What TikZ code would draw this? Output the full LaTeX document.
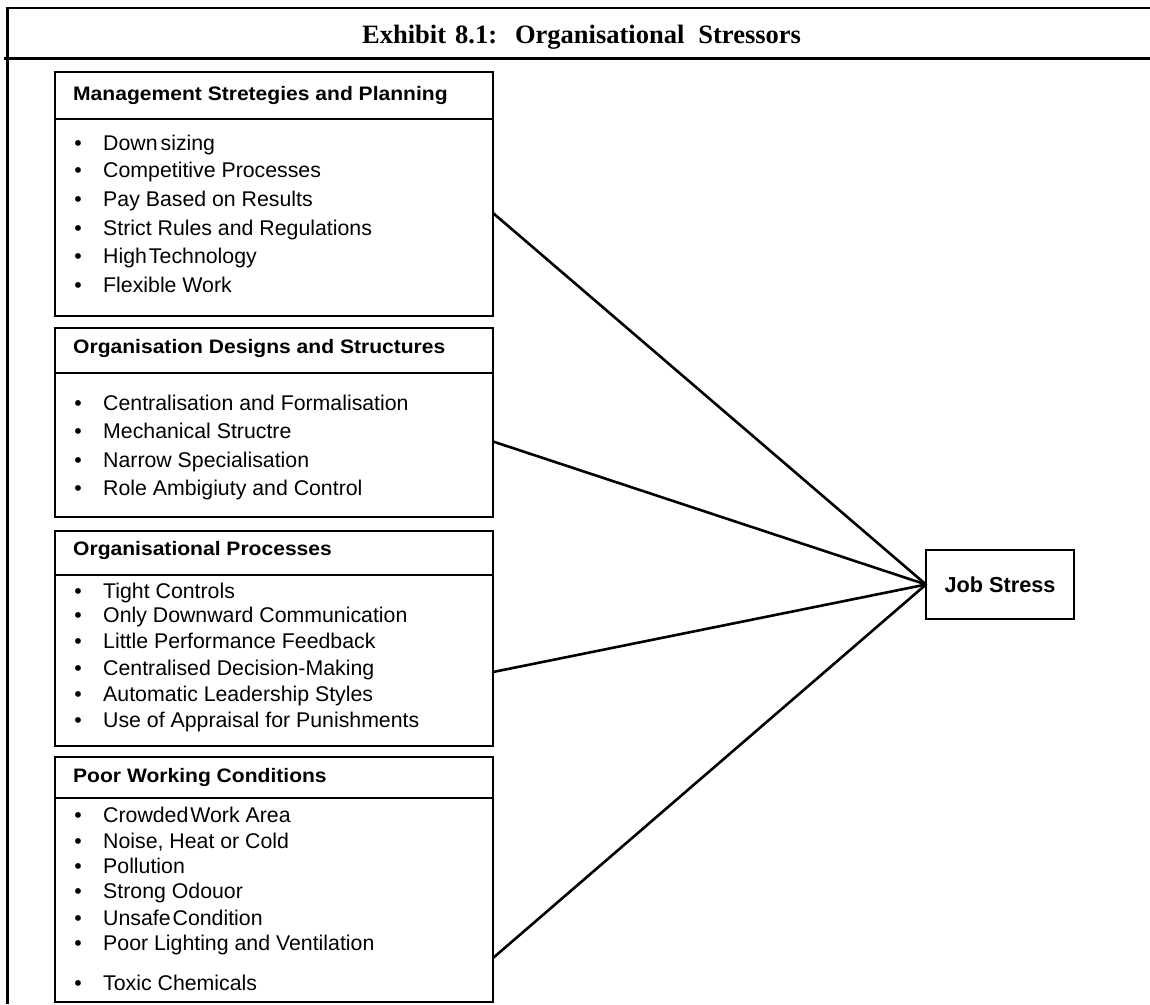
\documentclass[tikz,border=0pt]{standalone}
\usepackage{fontspec}
\setmainfont{Liberation Serif}
\newfontfamily\itemfont{Liberation Sans}
\newfontfamily\headfont[FakeStretch=1.08]{Liberation Sans}

% one bulleted line: name, baseline y, text
\newcommand\bulletrow[3]{%
  \node[dot] (#1d) at (78,#2) {\textbullet};
  \node[itemtext] (#1) at (103,#2) {#3};
}

\begin{document}
\begin{tikzpicture}[x=1pt,y=-1pt,
  boxpart/.style={draw, line width=2.6pt, inner sep=0pt, outer sep=0pt,
    minimum width=438pt, anchor=north west},
  headtext/.style={anchor=base west, inner sep=0pt,
    font=\headfont\bfseries\fontsize{19.5}{22}\selectfont},
  itemtext/.style={anchor=base west, inner sep=0pt,
    font=\itemfont\fontsize{21.3}{24}\selectfont},
  dot/.style={anchor=base, inner sep=0pt,
    font=\itemfont\fontsize{21.3}{24}\selectfont},
  link/.style={line width=2.6pt, line cap=round}]

\useasboundingbox (0,0) rectangle (1150,1004);

% frame of the exhibit
\draw[line width=2.6pt] (1150,8) -- (7.5,8) -- (7.5,1004);
\draw[line width=3.2pt] (4,58.5) -- (1150,58.5);
\node[anchor=base west, inner sep=0pt,
  font=\bfseries\fontsize{26.5}{30}\selectfont] (title) at (362,43)
  {Exhibit\hspace{9pt}8.1:\hspace{18pt}Organisational\hspace{14pt}Stressors};

% Management strategies
\node[boxpart, minimum height=47pt] (h1) at (55,72) {};
\node[boxpart, minimum height=197pt] (b1) at (55,119) {};
\node[headtext] (t1) at (73,100) {Management Stretegies and Planning};
\bulletrow{a1}{150}{Down\hspace{3pt}sizing}
\bulletrow{a2}{177.5}{Competitive Processes}
\bulletrow{a3}{206}{Pay Based on Results}
\bulletrow{a4}{235}{Strict Rules and Regulations}
\bulletrow{a5}{263.5}{High\hspace{2pt}Technology}
\bulletrow{a6}{292}{Flexible Work}

% Organisation designs
\node[boxpart, minimum height=45pt] (h2) at (55,328) {};
\node[boxpart, minimum height=144pt] (b2) at (55,373) {};
\node[headtext] (t2) at (73,353) {Organisation Designs and Structures};
\bulletrow{b21}{410}{Centralisation and Formalisation}
\bulletrow{b22}{438.5}{Mechanical Structre}
\bulletrow{b23}{467}{Narrow Specialisation}
\bulletrow{b24}{495.5}{Role Ambigiuty and Control}

% Organisational processes
\node[boxpart, minimum height=44pt] (h3) at (55,531) {};
\node[boxpart, minimum height=171pt] (b3) at (55,575) {};
\node[headtext] (t3) at (73,555) {Organisational Processes};
\bulletrow{c1}{598}{Tight Controls}
\bulletrow{c2}{622}{Only Downward Communication}
\bulletrow{c3}{648.5}{Little Performance Feedback}
\bulletrow{c4}{675}{Centralised Decision-Making}
\bulletrow{c5}{701}{Automatic Leadership Styles}
\bulletrow{c6}{727}{Use of Appraisal for Punishments}

% Working conditions
\node[boxpart, minimum height=41pt] (h4) at (55,757) {};
\node[boxpart, minimum height=204pt] (b4) at (55,798) {};
\node[headtext] (t4) at (73,782) {Poor Working Conditions};
\bulletrow{d1}{822.5}{Crowded\hspace{2pt}Work Area}
\bulletrow{d2}{848}{Noise, Heat or Cold}
\bulletrow{d3}{873.5}{Pollution}
\bulletrow{d4}{898}{Strong Odouor}
\bulletrow{d5}{925}{Unsafe\hspace{2pt}Condition}
\bulletrow{d6}{950}{Poor Lighting and Ventilation}
\bulletrow{d7}{990}{Toxic Chemicals}

% outcome
\node[draw, line width=2.6pt, minimum width=148pt, minimum height=69pt,
  inner sep=0pt, outer sep=0pt,
  font=\itemfont\bfseries\fontsize{21.7}{24}\selectfont] (js) at (1000,584.5) {Job Stress};

% stressors feeding into job stress
\draw[link] ([yshift=4.5pt]b1.east) -- (js.west);
\draw[link] ([yshift=3.5pt]b2.east) -- (js.west);
\draw[link] ([yshift=-11.5pt]b3.east) -- (js.west);
\draw[link] ([yshift=-58pt]b4.east) -- (js.west);
\end{tikzpicture}
\end{document}
